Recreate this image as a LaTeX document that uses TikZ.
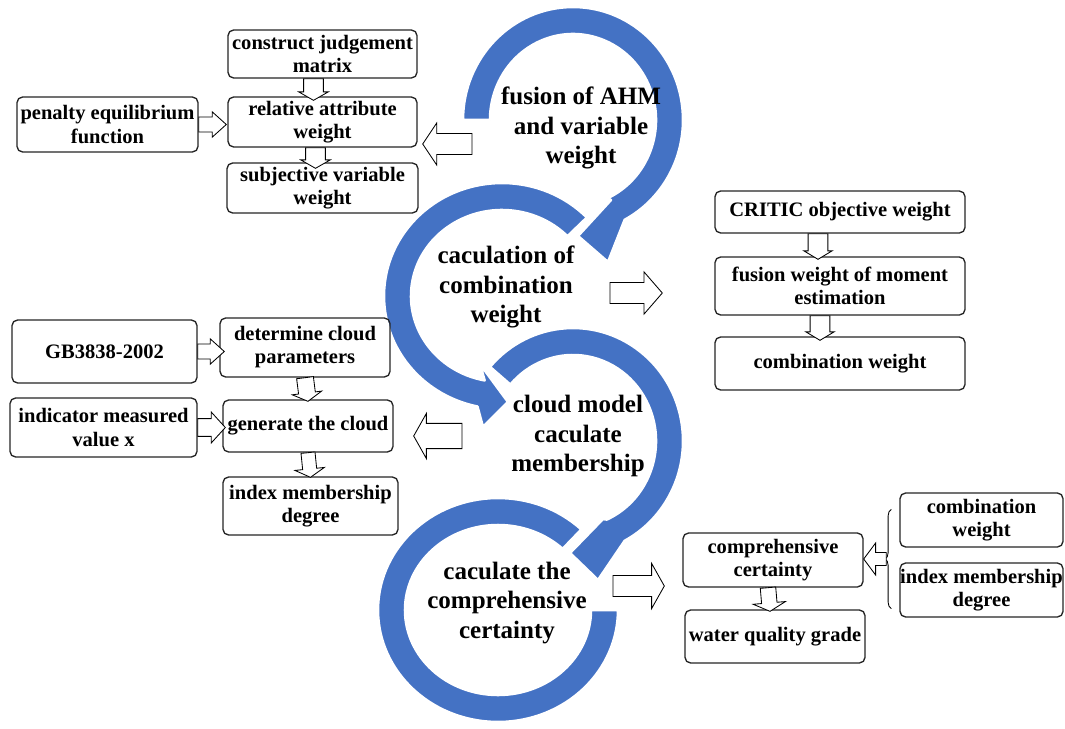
\documentclass[tikz,border=0pt]{standalone}
\usepackage{fontspec}
\setmainfont{Liberation Serif}
\usetikzlibrary{calc,decorations.pathreplacing}
\definecolor{arrowblue}{RGB}{68,114,196}
\newcommand\boxfont{\fontsize{14.6}{16.4}\selectfont\bfseries}
\newcommand\circfont{\fontsize{17.8}{20.8}\selectfont\bfseries}
\tikzset{
  box/.style={draw=black!85, line width=0.95pt, rounded corners=4pt, inner sep=0pt, align=center, font=\boxfont},
  circtext/.style={align=center, font=\circfont, inner sep=0pt},
  blk/.style={draw=black, fill=white, line width=0.6pt, line join=miter},
  ring/.style={fill=arrowblue, draw=white, line width=1.8pt, line join=round},
}
% box from pixel corners (x1,y1)-(x2,y2)
\newcommand\boxnode[6]{%
  \pgfmathsetmacro\bxw{(#4-#2)*0.71132}%
  \pgfmathsetmacro\bxh{(#5-#3)*0.71132}%
  \node[box, minimum width=\bxw pt, minimum height=\bxh pt] (#1) at ({(#2+#4)/2},{(#3+#5)/2}) {#6};
}
% #1 start, #2 tip, #3 shaft half width, #4 head half width, #5 head length
\newcommand\blockarrow[5]{%
  \coordinate (ba-q) at ($(#2)!#5!(#1)$);
  \path[blk] ($(#1)!#3!90:(#2)$) -- ($(ba-q)!#3!90:(#2)$) -- ($(ba-q)!#4!90:(#2)$) -- (#2)
    -- ($(ba-q)!#4!-90:(#2)$) -- ($(ba-q)!#3!-90:(#2)$) -- ($(#1)!#3!-90:(#2)$) -- cycle;
}
\begin{document}
\begin{tikzpicture}[x=0.025cm, y=-0.025cm]
\useasboundingbox (0,0) rectangle (1065,729);
\fill[white] (0,0) rectangle (1065,729);

% ---- circular arrows ----
% C4
\path[ring] (498,610) ++(-46:120 and 112) arc[start angle=-46, end angle=-360, x radius=120, y radius=112]
  -- ($(498,610)+(0:93 and 85)$) arc[start angle=-360, end angle=-46, x radius=93, y radius=85] -- cycle;
% C3
\path[ring] (573,441) ++(-139:110 and 113) arc[start angle=-139, end angle=62, x radius=110, y radius=113]
  -- (598,580) -- (570,553) -- (603,519)
  -- ($(573,441)+(66:83 and 86)$) arc[start angle=66, end angle=-139, x radius=83, y radius=86] -- cycle;
% C2
\path[ring] (502,296) ++(-44:118 and 113) arc[start angle=-44, end angle=-258, x radius=118, y radius=113]
  -- (483,427) -- (508,402) -- (480,364)
  -- ($(502,296)+(-259:91 and 86)$) arc[start angle=-259, end angle=-44, x radius=91, y radius=86] -- cycle;
% C1
\path[ring] (573,120) ++(180:110 and 113) arc[start angle=180, end angle=422, x radius=110, y radius=113]
  -- (608,262) -- (578,236) -- (611,200)
  -- ($(573,120)+(426:83 and 86)$) arc[start angle=426, end angle=180, x radius=83, y radius=86] -- cycle;

% ---- circle texts ----
\node[circtext] (t1) at (581,128) {fusion of AHM\\and variable\\weight};
\node[circtext] (t2) at (506,287) {caculation of\\combination\\weight};
\node[circtext] (t3) at (578,436) {cloud model\\caculate\\membership};
\node[circtext] (t4) at (507,603) {caculate the\\comprehensive\\certainty};

% ---- boxes ----
\boxnode{cjm}{228}{30}{417}{78}{construct judgement\\matrix}
\boxnode{rel}{228}{97}{417}{147}{relative attribute\\weight}
\boxnode{sub}{227}{163}{418}{213}{subjective variable\\weight}
\boxnode{pen}{17}{97}{198}{152}{penalty equilibrium\\function}

\boxnode{critic}{715}{191}{965}{233}{CRITIC objective weight}
\boxnode{fwm}{715}{257}{965}{315}{fusion weight of moment\\estimation}
\boxnode{cw}{715}{337}{965}{390}{combination weight}

\boxnode{gb}{12}{320}{197}{383}{GB3838-2002}
\boxnode{dcp}{220}{318}{390}{377}{determine cloud\\parameters}
\boxnode{ind}{10}{398}{197}{457}{indicator measured\\value x}
\boxnode{gen}{223}{400}{393}{452}{generate the cloud}
\boxnode{imd}{223}{477}{398}{535}{index membership\\degree}

\boxnode{cc}{683}{533}{863}{587}{comprehensive\\certainty}
\boxnode{wqg}{685}{610}{865}{663}{water quality grade}
\boxnode{cw2}{900}{493}{1063}{547}{combination\\weight}
\boxnode{imd2}{900}{563}{1063}{617}{index membership\\degree}

% ---- arrow end points ----
\coordinate (p1s) at (pen.east);
\coordinate (p1e) at ($(rel.west |- pen.east)+(-1,0)$);
\coordinate (p2s) at ($(cjm.south)+(-9,0)$);
\coordinate (p2e) at ($(rel.north)+(-9,4)$);
\coordinate (p3s) at ($(rel.south)+(-7,0)$);
\coordinate (p3e) at ($(sub.north)+(-7,6)$);
\coordinate (c1s) at (472,144);
\coordinate (c1e) at ($(rel.east |- c1s)+(5,0)$);

\coordinate (c2s) at (610,293);
\coordinate (c2e) at ($(critic.west |- c2s)+(-52,0)$);
\coordinate (p4s) at ($(critic.south)+(-22,0)$);
\coordinate (p4e) at ($(fwm.north)+(-22,3)$);
\coordinate (p5s) at ($(fwm.south)+(-20,0)$);
\coordinate (p5e) at ($(cw.north)+(-20,4)$);

\coordinate (p6s) at (gb.east);
\coordinate (p6e) at ($(dcp.west |- gb.east)+(5,0)$);
\coordinate (p7s) at (ind.east);
\coordinate (p7e) at ($(gen.west |- ind.east)+(3,0)$);
\coordinate (p8s) at (dcp.south);
\coordinate (p8e) at ($(gen.north)+(0,2)$);
\coordinate (p9s) at (gen.south);
\coordinate (p9e) at ($(imd.north)+(0,1)$);
\coordinate (c3s) at (462,436);
\coordinate (c3e) at ($(gen.east |- c3s)+(20,0)$);

\coordinate (p10s) at ($(cc.south)+(-5,0)$);
\coordinate (p10e) at ($(wqg.north)+(-5,2)$);
\coordinate (c4s) at (613,586);
\coordinate (c4e) at ($(cc.west |- c4s)+(-18,0)$);
\coordinate (brb) at ($(imd2.south west)+(-8,-9)$);
\coordinate (brt) at ($(cw2.north west)+(-8,17)$);
\coordinate (brs) at ($(brb)!0.5!(brt)+(-5,0)$);
\coordinate (bre) at (cc.east |- brs);

% ---- block arrows ----
\blockarrow{p1s}{p1e}{5.3pt}{9pt}{10pt}
\blockarrow{p2s}{p2e}{7pt}{10.5pt}{6pt}
\blockarrow{p3s}{p3e}{7pt}{10.5pt}{6pt}
\blockarrow{c1s}{c1e}{7.5pt}{15pt}{10pt}
\blockarrow{c2s}{c2e}{7.5pt}{15pt}{13pt}
\blockarrow{p4s}{p4e}{7pt}{10pt}{6pt}
\blockarrow{p5s}{p5e}{7pt}{10pt}{6pt}
\blockarrow{p6s}{p6e}{5.3pt}{9pt}{10pt}
\blockarrow{p7s}{p7e}{6.3pt}{11pt}{10pt}
\blockarrow{p8s}{p8e}{6pt}{10.5pt}{6pt}
\blockarrow{p9s}{p9e}{5pt}{10.5pt}{6pt}
\blockarrow{c3s}{c3e}{9pt}{16pt}{9pt}
\blockarrow{p10s}{p10e}{5.5pt}{11.5pt}{6pt}
\blockarrow{c4s}{c4e}{7.5pt}{16pt}{9pt}
\draw[line width=0.6pt, decorate, decoration={brace, amplitude=4.5pt}] (brb) -- (brt);
\blockarrow{brs}{bre}{4.6pt}{11.4pt}{8.5pt}
\end{tikzpicture}
\end{document}
